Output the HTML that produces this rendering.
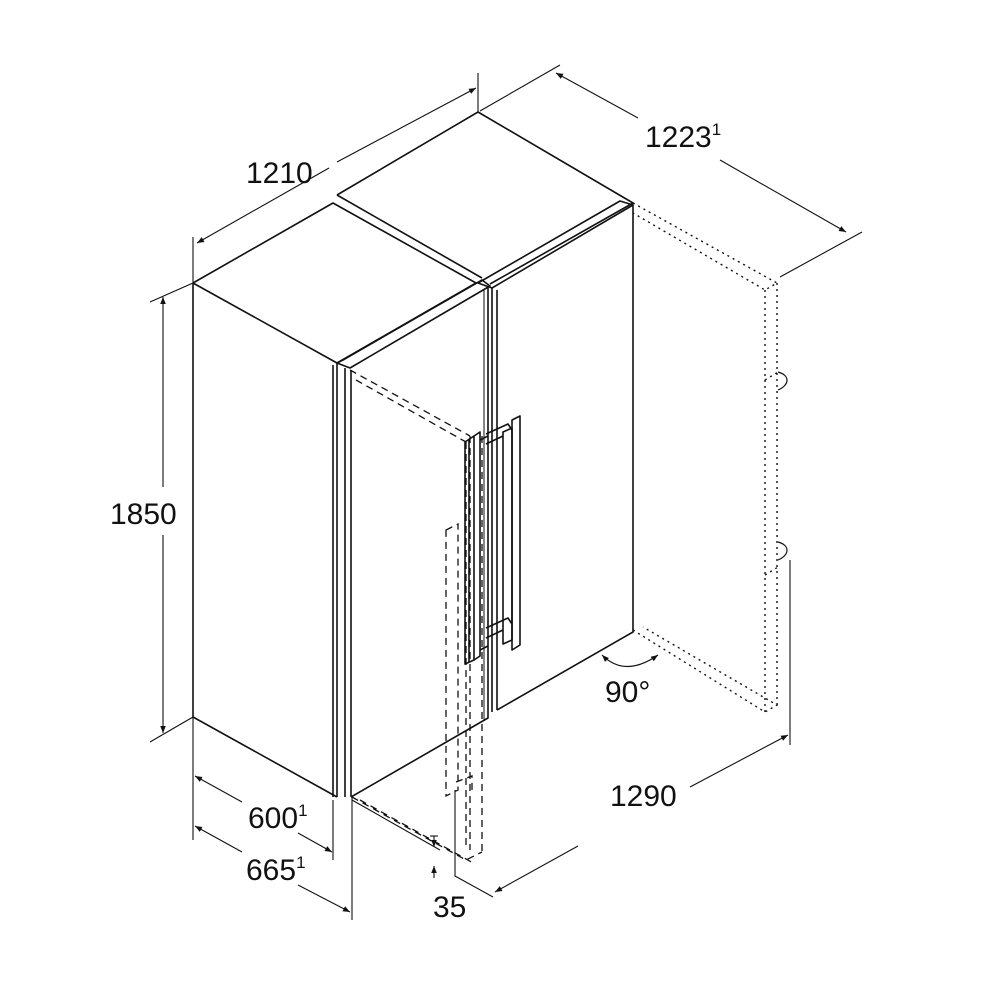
<!DOCTYPE html>
<html><head><meta charset="utf-8"><style>html,body{margin:0;padding:0;background:#fff}svg{display:block}text{font-family:"Liberation Sans",sans-serif;fill:#111}</style></head>
<body>
<svg width="1000" height="1000" viewBox="0 0 1000 1000" xmlns="http://www.w3.org/2000/svg">
<defs>
<marker id="a" viewBox="0 0 10 10" refX="10" refY="5" markerWidth="9" markerHeight="7" orient="auto-start-reverse" markerUnits="userSpaceOnUse"><path d="M0,1 L10,5 L0,9 z" fill="#111"/></marker>
</defs>
<g fill="none" stroke="#111" stroke-width="1.6" stroke-linejoin="round">
<!-- left unit -->
<path d="M193,283 L333,203 L476,283 L337,363 Z"/>
<path d="M193,283 L193,717 L337,797"/>
<line x1="333" y1="365" x2="333" y2="797"/>
<line x1="337" y1="363" x2="337" y2="797"/>
<!-- left door -->
<path d="M337,363 L343,360 L482,280 L490,286 L350,368 Z"/>
<line x1="345" y1="368" x2="345" y2="797"/>
<line x1="351" y1="370" x2="351" y2="797"/>
<path d="M351,797 L488,718 L488,288"/>
<line x1="484" y1="290" x2="484" y2="720" stroke-width="1"/>
<!-- right unit -->
<path d="M337,195 L478,112 L633,203 L490,284"/>
<line x1="337" y1="195" x2="482" y2="278"/>
<path d="M478,283 L620,201 L633,205 L492,288 Z"/>
<line x1="492" y1="288" x2="492" y2="712"/>
<line x1="497" y1="290" x2="497" y2="710"/>
<path d="M497,710 L633,632 L633,205"/>
<!-- handles right door -->
<path d="M512,420 L520,416 L520,645 L512,650 Z"/>
<path d="M503,432 L512,428 L512,640 L503,644 Z"/>
<path d="M486,434 L508,424 L512,430 M486,444 L503,436 M486,628 L508,618 L512,624 M486,638 L503,630"/>
<!-- left door handle -->
<path d="M465,442 L474,436 L474,660 L465,664 Z"/>
<line x1="469" y1="440" x2="469" y2="662"/>
<path d="M474,436 L480,432 L480,656 L474,660"/>
<path d="M480,440 L488,436 M480,650 L488,646"/>
</g>
<g fill="none" stroke="#111" stroke-width="1.3" stroke-dasharray="7,5">
<path d="M350,370 L470,436 M356,380 L466,442"/>
<line x1="466" y1="442" x2="466" y2="845"/>
<line x1="482" y1="436" x2="482" y2="855"/>
<line x1="470" y1="436" x2="470" y2="850"/>
<path d="M352,797 L466,860 L482,852 M360,800 L475,864"/>
<path d="M446,530 L458,524 L458,790 L446,796 Z"/>
<path d="M456,782 L472,776 L472,790"/>
</g>
<g fill="none" stroke="#111" stroke-width="1.4" stroke-dasharray="2,4">
<path d="M633,203 L777,283 L765,290 L633,213"/>
<line x1="765" y1="290" x2="765" y2="712"/>
<line x1="777" y1="283" x2="777" y2="705"/>
<path d="M633,630 L765,712 L777,705 L643,627"/>
<path d="M765,380 L778,372 M765,575 L778,567"/>
</g>
<g fill="none" stroke="#111" stroke-width="1.2">
<path d="M778,372 C790,375 790,385 778,390 M778,542 C790,545 790,555 778,560"/>
<path d="M602,655 Q625,678 658,655" marker-start="url(#a)" marker-end="url(#a)"/>
</g>
<g stroke="#111" stroke-width="1.1" fill="none">
<line x1="193" y1="237" x2="193" y2="282"/>
<line x1="478" y1="73" x2="478" y2="112"/>
<line x1="197" y1="243" x2="329" y2="168" marker-start="url(#a)"/>
<line x1="337" y1="162" x2="476" y2="88" marker-end="url(#a)"/>
<line x1="480" y1="111" x2="560" y2="65"/>
<line x1="780" y1="277" x2="862" y2="232"/>
<line x1="556" y1="73" x2="638" y2="118" marker-start="url(#a)"/>
<line x1="720" y1="160" x2="846" y2="232" marker-end="url(#a)"/>
<line x1="150" y1="302" x2="193" y2="283"/>
<line x1="150" y1="742" x2="193" y2="717"/>
<line x1="163" y1="297" x2="163" y2="487" marker-start="url(#a)"/>
<line x1="163" y1="535" x2="163" y2="733" marker-end="url(#a)"/>
<line x1="193" y1="717" x2="193" y2="840"/>
<line x1="333" y1="800" x2="333" y2="860"/>
<line x1="352" y1="797" x2="352" y2="920"/>
<line x1="195" y1="776" x2="242" y2="802" marker-start="url(#a)"/>
<line x1="298" y1="833" x2="332" y2="852" marker-end="url(#a)"/>
<line x1="195" y1="826" x2="242" y2="852" marker-start="url(#a)"/>
<line x1="298" y1="885" x2="350" y2="912" marker-end="url(#a)"/>
<line x1="352" y1="800" x2="440" y2="850"/>
<line x1="434" y1="836" x2="434" y2="847" marker-end="url(#a)"/>
<line x1="430" y1="836" x2="438" y2="836"/>
<line x1="434" y1="878" x2="434" y2="866" marker-end="url(#a)"/>
<path d="M455,790 L455,876 L493,897"/>
<line x1="790" y1="560" x2="790" y2="745"/>
<line x1="495" y1="892" x2="578" y2="846" marker-start="url(#a)"/>
<line x1="690" y1="787" x2="788" y2="735" marker-end="url(#a)"/>
</g>
<g font-size="30">
<text x="246" y="183">1210</text>
<text x="645" y="147">1223<tspan font-size="17" dy="-12">1</tspan></text>
<text x="110" y="524">1850</text>
<text x="248" y="828">600<tspan font-size="17" dy="-12">1</tspan></text>
<text x="246" y="880">665<tspan font-size="17" dy="-12">1</tspan></text>
<text x="433" y="917">35</text>
<text x="610" y="806">1290</text>
<text x="605" y="702">90°</text>
</g>
</svg>
</body></html>
